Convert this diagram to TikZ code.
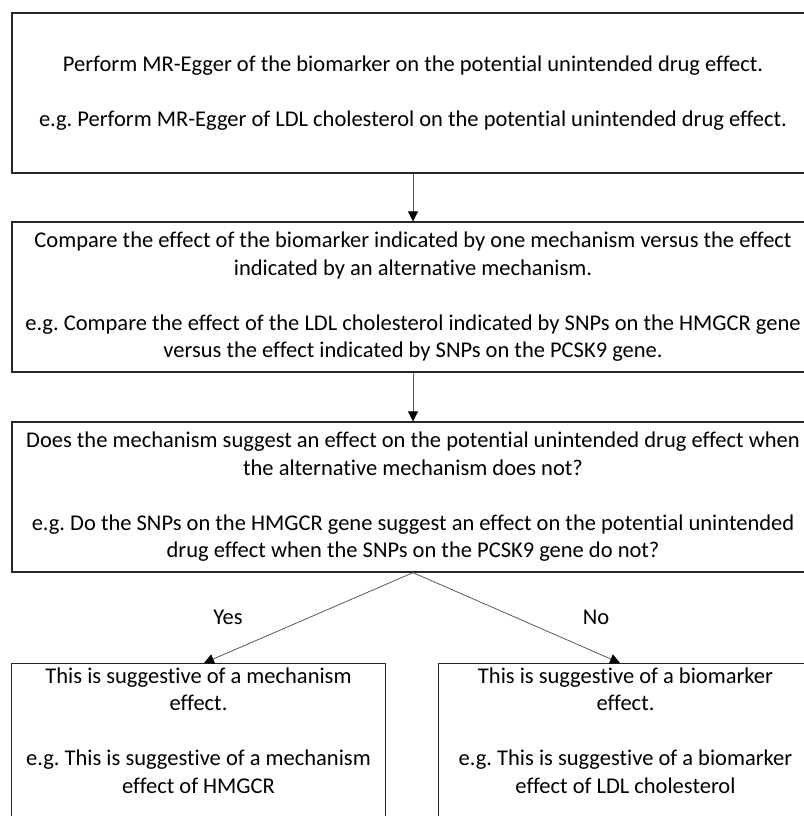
\documentclass[tikz,border=0pt]{standalone}
\usepackage{fontspec}
\setmainfont{Carlito}[Ligatures={NoCommon}]
\usetikzlibrary{arrows.meta}
\frenchspacing
\begin{document}
\begin{tikzpicture}[x=1pt,y=-1pt,
  box/.style={draw=black!85, line width=1.3pt, align=center, inner sep=0pt,
    font=\fontsize{22.5}{27.5}\selectfont},
  conn/.style={draw=black!65, line width=0.8pt, -{Triangle[length=10pt,width=10pt,color=black]}},
  lbl/.style={font=\fontsize{22.5}{27}\selectfont, inner sep=0pt}]
\useasboundingbox (0,0) rectangle (803,816);
\node[box, minimum width=802, minimum height=160] (b1) at (413,93)
  {Perform MR-Egger of the biomarker on the potential unintended drug effect.\\[\baselineskip]
   e.g. Perform MR-Egger of LDL cholesterol on the potential unintended drug effect.};
\node[box, minimum width=802, minimum height=150] (b2) at (413,297)
  {Compare the effect of the biomarker indicated by one mechanism versus the effect\\
   indicated by an alternative mechanism.\\[\baselineskip]
   e.g. Compare the effect of the LDL cholesterol indicated by SNPs on the HMGCR gene\\
   versus the effect indicated by SNPs on the PCSK9 gene.};
\node[box, minimum width=802, minimum height=150] (b3) at (413,497)
  {Does the mechanism suggest an effect on the potential unintended drug effect when\\
   the alternative mechanism does not?\\[\baselineskip]
   e.g. Do the SNPs on the HMGCR gene suggest an effect on the potential unintended\\
   drug effect when the SNPs on the PCSK9 gene do not?};
\node[box, anchor=north, minimum width=373.5, minimum height=190] (b4) at (198.5,663)
  {\parbox[c][186pt][t]{365pt}{\centering\vspace{2pt}
   This is suggestive of a mechanism\\ effect.\\[\baselineskip]
   e.g. This is suggestive of a mechanism\\ effect of HMGCR}};
\node[box, anchor=north, minimum width=373.5, minimum height=190] (b5) at (625.5,663)
  {\parbox[c][186pt][t]{365pt}{\centering\vspace{2pt}
   This is suggestive of a biomarker\\ effect.\\[\baselineskip]
   e.g. This is suggestive of a biomarker\\ effect of LDL cholesterol}};
\draw[conn] (b1.south) -- (b2.north);
\draw[conn] (b2.south) -- (b3.north);
\draw[conn] (b3.south) -- ([xshift=5.5pt]b4.north);
\draw[conn] (b3.south) -- ([xshift=-5.5pt]b5.north);
\node[lbl] (yes) at (228,617) {Yes};
\node[lbl] (no) at (596,617) {No};
\end{tikzpicture}
\end{document}
